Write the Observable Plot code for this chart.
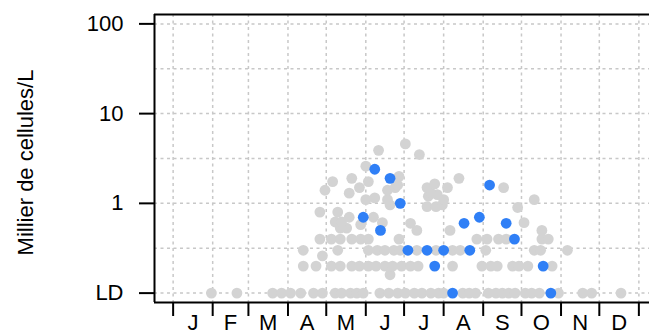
<!DOCTYPE html>
<html><head><meta charset="utf-8">
<script src="https://cdn.jsdelivr.net/npm/d3@7"></script>
<script src="https://cdn.jsdelivr.net/npm/@observablehq/plot@0.6"></script>
<style>body{margin:0;background:#fff} svg{display:block}</style>
</head><body><div id="chart"></div>
<script>
const monthLabels = ["J","F","M","A","M","J","J","A","S","O","N","D"];
const monthStarts = [0,31,59,90,120,151,181,212,243,273,304,334,365];
const yTickValues = [0.1, 1, 10, 100];
const yTickLabels = ["LD", "1", "10", "100"];
const yGridValues = [0.1, 0.316, 1, 3.16, 10, 31.6, 100];
const yTitle = "Millier de cellules/L";

// historical samples (grey): day of year, thousand cells per litre (LD = 0.1)
const greyDay = [
  30,50,78,85,92,100,110,117,127,132,139,144,149,162,169,176,182,189,195,202,208,212,227,232,237,247,253,258,263,268,276,281,287,302,321,328,351,
  170,
  102,112,124,131,140,146,153,159,166,172,179,186,192,219,242,249,254,266,271,278,297,
  117,
  102,129,153,160,166,173,178,191,206,219,225,245,283,288,309,
  115,124,131,140,147,153,177,238,246,255,261,289,294,
  191,217,289,131,136,147,186,164,275,127,132,138,157,115,129,270,199,206,170,211,
  151,168,212,283,158,200,207,138,202,119,168,146,174,199,215,259,205,125,153,140,224,177,176,151,193,161,182
];
const greyValue = [
  0.1,0.1,0.1,0.1,0.1,0.1,0.1,0.1,0.1,0.1,0.1,0.1,0.1,0.1,0.1,0.1,0.1,0.1,0.1,0.1,0.1,0.1,0.1,0.1,0.1,0.1,0.1,0.1,0.1,0.1,0.1,0.1,0.1,0.1,0.1,0.1,0.1,
  0.16,
  0.2,0.2,0.2,0.2,0.2,0.2,0.2,0.2,0.2,0.2,0.2,0.2,0.2,0.2,0.2,0.2,0.2,0.2,0.2,0.2,0.2,
  0.26,
  0.3,0.3,0.3,0.3,0.3,0.3,0.3,0.3,0.3,0.3,0.3,0.3,0.3,0.3,0.3,
  0.4,0.4,0.4,0.4,0.4,0.4,0.4,0.4,0.4,0.4,0.4,0.4,0.4,
  0.5,0.5,0.5,0.53,0.53,0.58,0.6,0.61,0.61,0.62,0.62,0.7,0.7,0.8,0.8,0.9,0.92,0.92,0.96,0.96,
  1.1,1.1,1.1,1.1,1.15,1.2,1.25,1.3,1.3,1.4,1.4,1.5,1.5,1.5,1.5,1.5,1.65,1.75,1.75,1.9,1.9,2.0,1.6,2.6,3.5,3.9,4.6
];
// current year (blue)
const blueDay   = [158,170,178,149,162.5,184,199,212,232.5,205,219,228,240,248,261,267.5,290,296];
const blueValue = [2.4,1.9,1.0,0.7,0.5,0.3,0.3,0.3,0.3,0.2,0.1,0.6,0.7,1.6,0.6,0.4,0.2,0.1];

const grey = greyDay.map((d, i) => ({day: d, value: greyValue[i]}));
const blue = blueDay.map((d, i) => ({day: d, value: blueValue[i]}));
const monthMids = monthLabels.map((m, i) => (monthStarts[i] + monthStarts[i + 1]) / 2);
const midLabel = new Map(monthMids.map((d, i) => [d, monthLabels[i]]));
const yLabel = new Map(yTickValues.map((d, i) => [d, yTickLabels[i]]));

const xMin = -14.6, xMax = 379.6, yMin = 0.0786, yMax = 127.2;
const gridStyle = {stroke: "#c8c8c8", strokeOpacity: 1, strokeWidth: 1.5, strokeDasharray: "3,3.5"};

const chart = Plot.plot({
  width: 649, height: 334,
  marginLeft: 154, marginRight: 0, marginTop: 14, marginBottom: 32,
  style: {fontFamily: "'Liberation Sans', Arial, sans-serif", fontSize: "22px", background: "#fff", color: "#000"},
  x: {domain: [xMin, xMax], range: [154, 657]},
  y: {type: "log", domain: [yMin, yMax]},
  marks: [
    Plot.gridX(monthStarts, gridStyle),
    Plot.gridY(yGridValues, gridStyle),
    Plot.dot(grey, {x: "day", y: "value", r: 5.4, fill: "#d3d3d3"}),
    Plot.dot(blue, {x: "day", y: "value", r: 5.4, fill: "#2f7ff6"}),
    Plot.axisY(yTickValues, {tickSize: 15, tickPadding: 16, strokeWidth: 2, stroke: "#000", tickFormat: d => yLabel.get(d), label: null, fontSize: 22}),
    Plot.axisX(monthStarts, {tickSize: 14, strokeWidth: 2, stroke: "#000", tickFormat: () => "", label: null}),
    Plot.axisX(monthMids, {tickSize: 0, tickPadding: 12, tickFormat: d => midLabel.get(d), label: null, fontSize: 22}),
    Plot.ruleY([yMax], {strokeWidth: 2, stroke: "#000"}),
    Plot.ruleY([yMin], {strokeWidth: 2, stroke: "#000"}),
    Plot.ruleX([xMin], {strokeWidth: 2, stroke: "#000"}),
    Plot.text([yTitle], {frameAnchor: "left", dx: -129, dy: 4, rotate: -90, textAnchor: "middle", lineAnchor: "middle", fontSize: 22, fill: "#000"})
  ]
});
document.getElementById("chart").appendChild(chart);
</script>
</body></html>
